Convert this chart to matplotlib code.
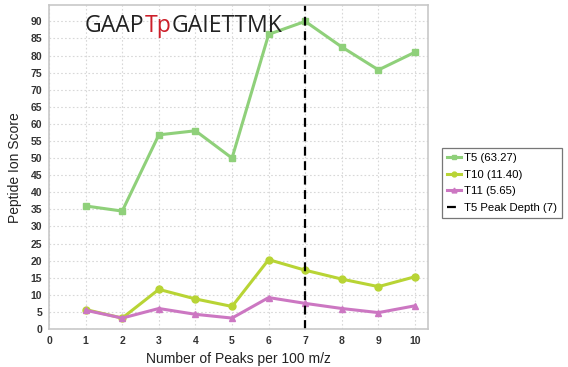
import matplotlib
matplotlib.use("Agg")
import matplotlib.pyplot as plt

plt.rcParams["font.family"] = ["Liberation Sans", "DejaVu Sans"]

peaks = [1, 2, 3, 4, 5, 6, 7, 8, 9, 10]
t5 = [36.0, 34.5, 56.8, 58.0, 50.0, 86.2, 90.0, 82.5, 75.8, 81.0]
t10 = [5.7, 3.2, 11.6, 8.8, 6.6, 20.3, 17.2, 14.6, 12.4, 15.3]
t11 = [5.5, 3.2, 6.0, 4.3, 3.2, 9.2, 7.5, 6.0, 4.8, 6.8]
peak_depth = 7
labels = ["T5 (63.27)", "T10 (11.40)", "T11 (5.65)", "T5 Peak Depth (7)"]
title_parts = [("GAAP", "#222222"), ("Tp", "#cc1f2a"), ("GAIETTMK", "#222222")]

fig = plt.figure(figsize=(5.68, 3.67), dpi=100)
ax = fig.add_axes([0.0863, 0.1035, 0.667, 0.882])

ax.plot(peaks, t5, color="#8fd07a", lw=2.2, marker="s", ms=5, label=labels[0])
ax.plot(peaks, t10, color="#b8d435", lw=2.2, marker="o", ms=5, label=labels[1])
ax.plot(peaks, t11, color="#cc77c2", lw=2.2, marker="^", ms=5, label=labels[2])
ax.axvline(peak_depth, color="black", lw=1.6, ls=(0, (4, 2.5)), label=labels[3])

ax.set_xlim(0, 10.35)
ax.set_ylim(0, 94.7)
ax.set_xticks(range(0, 11))
ax.set_yticks(range(0, 91, 5))
ax.grid(True, color="#d8d8d8", ls=(0, (1.5, 2)), lw=0.8)
for s in ax.spines.values():
    s.set_color("#c8c8c8")
    s.set_linewidth(1.2)
ax.tick_params(length=0, pad=5, labelsize=7.5, labelcolor="#333333")
for t in ax.get_xticklabels() + ax.get_yticklabels():
    t.set_fontweight("bold")
ax.set_xlabel("Number of Peaks per 100 m/z", fontsize=10, color="#222222")
ax.set_ylabel("Peptide Ion Score", fontsize=10, color="#222222", labelpad=6)

leg = fig.legend(loc="upper left", bbox_to_anchor=(0.778, 0.597), fontsize=8.2,
                 frameon=True, fancybox=False, handlelength=1.25, handletextpad=0.2,
                 borderpad=0.45, borderaxespad=0, labelspacing=0.58, markerscale=0.7)
leg.get_frame().set_edgecolor("#555555")
leg.get_frame().set_linewidth(0.9)

# peptide sequence, with the modified residue in red
fig.canvas.draw()
r = fig.canvas.get_renderer()
x = 85
for txt, col in title_parts:
    t = fig.text(x / 568, 1 - 26 / 367, txt, color=col, fontsize=16.6,
                 family="Open Sans", va="center", ha="left")
    x = t.get_window_extent(r).x1

fig.savefig("out.png", dpi=100)
